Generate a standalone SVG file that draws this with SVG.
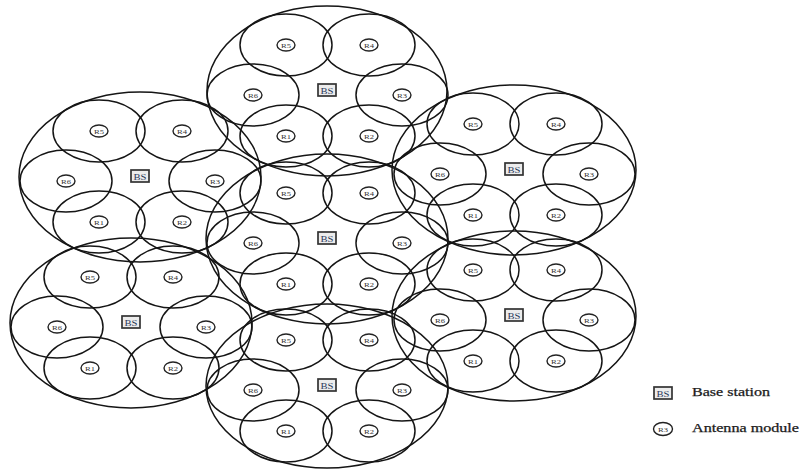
<svg xmlns="http://www.w3.org/2000/svg" width="801" height="470" viewBox="0 0 801 470">
<style>
.big{fill:none;stroke:#151515;stroke-width:1.5}
.cell{fill:none;stroke:#151515;stroke-width:1.5}
.lab{fill:#fff;stroke:#222;stroke-width:1.4}
.lt{font-family:"Liberation Serif",serif;font-size:6.5px;fill:#333;text-anchor:middle}
.bs{fill:#ececec;stroke:#333;stroke-width:1.7}
.bt{font-family:"Liberation Serif",serif;font-size:9px;fill:#2a3a5a;text-anchor:middle}
.leg{font-family:"Liberation Serif",serif;font-size:12px;fill:#1a1a1a;stroke:#1a1a1a;stroke-width:0.25}
</style>
<rect width="801" height="470" fill="#fff"/>
<g id="connectors"/>
<g id="cluster-top" transform="translate(327,91)">
<ellipse class="big" cx="0" cy="0" rx="120" ry="85"/>
<ellipse class="cell" cx="-41" cy="-46" rx="46" ry="31"/>
<ellipse class="cell" cx="42" cy="-46" rx="46" ry="31"/>
<ellipse class="cell" cx="-74" cy="4" rx="46" ry="31"/>
<ellipse class="cell" cx="75" cy="4" rx="46" ry="31"/>
<ellipse class="cell" cx="-41" cy="45" rx="46" ry="31"/>
<ellipse class="cell" cx="42" cy="45" rx="46" ry="31"/>
<rect class="bs" x="-9" y="-7" width="18" height="12"/><text class="bt" x="0" y="2.5" textLength="13" lengthAdjust="spacingAndGlyphs">BS</text>
<ellipse class="lab" cx="-41" cy="-46" rx="9" ry="6"/><text class="lt" x="-41" y="-43.5" textLength="10" lengthAdjust="spacingAndGlyphs">R5</text>
<ellipse class="lab" cx="42" cy="-46" rx="9" ry="6"/><text class="lt" x="42" y="-43.5" textLength="10" lengthAdjust="spacingAndGlyphs">R4</text>
<ellipse class="lab" cx="-74" cy="4" rx="9" ry="6"/><text class="lt" x="-74" y="6.5" textLength="10" lengthAdjust="spacingAndGlyphs">R6</text>
<ellipse class="lab" cx="75" cy="4" rx="9" ry="6"/><text class="lt" x="75" y="6.5" textLength="10" lengthAdjust="spacingAndGlyphs">R3</text>
<ellipse class="lab" cx="-41" cy="45" rx="9" ry="6"/><text class="lt" x="-41" y="47.5" textLength="10" lengthAdjust="spacingAndGlyphs">R1</text>
<ellipse class="lab" cx="42" cy="45" rx="9" ry="6"/><text class="lt" x="42" y="47.5" textLength="10" lengthAdjust="spacingAndGlyphs">R2</text>
</g>
<g id="cluster-left-upper" transform="translate(140,177)">
<ellipse class="big" cx="0" cy="0" rx="121" ry="85"/>
<ellipse class="cell" cx="-41" cy="-46" rx="46" ry="31"/>
<ellipse class="cell" cx="42" cy="-46" rx="46" ry="31"/>
<ellipse class="cell" cx="-74" cy="4" rx="46" ry="31"/>
<ellipse class="cell" cx="75" cy="4" rx="46" ry="31"/>
<ellipse class="cell" cx="-41" cy="45" rx="46" ry="31"/>
<ellipse class="cell" cx="42" cy="45" rx="46" ry="31"/>
<rect class="bs" x="-9" y="-7" width="18" height="12"/><text class="bt" x="0" y="2.5" textLength="13" lengthAdjust="spacingAndGlyphs">BS</text>
<ellipse class="lab" cx="-41" cy="-46" rx="9" ry="6"/><text class="lt" x="-41" y="-43.5" textLength="10" lengthAdjust="spacingAndGlyphs">R5</text>
<ellipse class="lab" cx="42" cy="-46" rx="9" ry="6"/><text class="lt" x="42" y="-43.5" textLength="10" lengthAdjust="spacingAndGlyphs">R4</text>
<ellipse class="lab" cx="-74" cy="4" rx="9" ry="6"/><text class="lt" x="-74" y="6.5" textLength="10" lengthAdjust="spacingAndGlyphs">R6</text>
<ellipse class="lab" cx="75" cy="4" rx="9" ry="6"/><text class="lt" x="75" y="6.5" textLength="10" lengthAdjust="spacingAndGlyphs">R3</text>
<ellipse class="lab" cx="-41" cy="45" rx="9" ry="6"/><text class="lt" x="-41" y="47.5" textLength="10" lengthAdjust="spacingAndGlyphs">R1</text>
<ellipse class="lab" cx="42" cy="45" rx="9" ry="6"/><text class="lt" x="42" y="47.5" textLength="10" lengthAdjust="spacingAndGlyphs">R2</text>
</g>
<g id="cluster-right-upper" transform="translate(514,170)">
<ellipse class="big" cx="0" cy="0" rx="122" ry="85"/>
<ellipse class="cell" cx="-41" cy="-46" rx="46" ry="31"/>
<ellipse class="cell" cx="42" cy="-46" rx="46" ry="31"/>
<ellipse class="cell" cx="-74" cy="4" rx="46" ry="31"/>
<ellipse class="cell" cx="75" cy="4" rx="46" ry="31"/>
<ellipse class="cell" cx="-41" cy="45" rx="46" ry="31"/>
<ellipse class="cell" cx="42" cy="45" rx="46" ry="31"/>
<rect class="bs" x="-9" y="-7" width="18" height="12"/><text class="bt" x="0" y="2.5" textLength="13" lengthAdjust="spacingAndGlyphs">BS</text>
<ellipse class="lab" cx="-41" cy="-46" rx="9" ry="6"/><text class="lt" x="-41" y="-43.5" textLength="10" lengthAdjust="spacingAndGlyphs">R5</text>
<ellipse class="lab" cx="42" cy="-46" rx="9" ry="6"/><text class="lt" x="42" y="-43.5" textLength="10" lengthAdjust="spacingAndGlyphs">R4</text>
<ellipse class="lab" cx="-74" cy="4" rx="9" ry="6"/><text class="lt" x="-74" y="6.5" textLength="10" lengthAdjust="spacingAndGlyphs">R6</text>
<ellipse class="lab" cx="75" cy="4" rx="9" ry="6"/><text class="lt" x="75" y="6.5" textLength="10" lengthAdjust="spacingAndGlyphs">R3</text>
<ellipse class="lab" cx="-41" cy="45" rx="9" ry="6"/><text class="lt" x="-41" y="47.5" textLength="10" lengthAdjust="spacingAndGlyphs">R1</text>
<ellipse class="lab" cx="42" cy="45" rx="9" ry="6"/><text class="lt" x="42" y="47.5" textLength="10" lengthAdjust="spacingAndGlyphs">R2</text>
</g>
<g id="cluster-center" transform="translate(327,239)">
<ellipse class="big" cx="0" cy="0" rx="121" ry="85"/>
<ellipse class="cell" cx="-41" cy="-46" rx="46" ry="31"/>
<ellipse class="cell" cx="42" cy="-46" rx="46" ry="31"/>
<ellipse class="cell" cx="-74" cy="4" rx="46" ry="31"/>
<ellipse class="cell" cx="75" cy="4" rx="46" ry="31"/>
<ellipse class="cell" cx="-41" cy="45" rx="46" ry="31"/>
<ellipse class="cell" cx="42" cy="45" rx="46" ry="31"/>
<rect class="bs" x="-9" y="-7" width="18" height="12"/><text class="bt" x="0" y="2.5" textLength="13" lengthAdjust="spacingAndGlyphs">BS</text>
<ellipse class="lab" cx="-41" cy="-46" rx="9" ry="6"/><text class="lt" x="-41" y="-43.5" textLength="10" lengthAdjust="spacingAndGlyphs">R5</text>
<ellipse class="lab" cx="42" cy="-46" rx="9" ry="6"/><text class="lt" x="42" y="-43.5" textLength="10" lengthAdjust="spacingAndGlyphs">R4</text>
<ellipse class="lab" cx="-74" cy="4" rx="9" ry="6"/><text class="lt" x="-74" y="6.5" textLength="10" lengthAdjust="spacingAndGlyphs">R6</text>
<ellipse class="lab" cx="75" cy="4" rx="9" ry="6"/><text class="lt" x="75" y="6.5" textLength="10" lengthAdjust="spacingAndGlyphs">R3</text>
<ellipse class="lab" cx="-41" cy="45" rx="9" ry="6"/><text class="lt" x="-41" y="47.5" textLength="10" lengthAdjust="spacingAndGlyphs">R1</text>
<ellipse class="lab" cx="42" cy="45" rx="9" ry="6"/><text class="lt" x="42" y="47.5" textLength="10" lengthAdjust="spacingAndGlyphs">R2</text>
</g>
<g id="cluster-left-lower" transform="translate(131,323)">
<ellipse class="big" cx="0" cy="0" rx="121" ry="85"/>
<ellipse class="cell" cx="-41" cy="-46" rx="46" ry="31"/>
<ellipse class="cell" cx="42" cy="-46" rx="46" ry="31"/>
<ellipse class="cell" cx="-74" cy="4" rx="46" ry="31"/>
<ellipse class="cell" cx="75" cy="4" rx="46" ry="31"/>
<ellipse class="cell" cx="-41" cy="45" rx="46" ry="31"/>
<ellipse class="cell" cx="42" cy="45" rx="46" ry="31"/>
<rect class="bs" x="-9" y="-7" width="18" height="12"/><text class="bt" x="0" y="2.5" textLength="13" lengthAdjust="spacingAndGlyphs">BS</text>
<ellipse class="lab" cx="-41" cy="-46" rx="9" ry="6"/><text class="lt" x="-41" y="-43.5" textLength="10" lengthAdjust="spacingAndGlyphs">R5</text>
<ellipse class="lab" cx="42" cy="-46" rx="9" ry="6"/><text class="lt" x="42" y="-43.5" textLength="10" lengthAdjust="spacingAndGlyphs">R4</text>
<ellipse class="lab" cx="-74" cy="4" rx="9" ry="6"/><text class="lt" x="-74" y="6.5" textLength="10" lengthAdjust="spacingAndGlyphs">R6</text>
<ellipse class="lab" cx="75" cy="4" rx="9" ry="6"/><text class="lt" x="75" y="6.5" textLength="10" lengthAdjust="spacingAndGlyphs">R3</text>
<ellipse class="lab" cx="-41" cy="45" rx="9" ry="6"/><text class="lt" x="-41" y="47.5" textLength="10" lengthAdjust="spacingAndGlyphs">R1</text>
<ellipse class="lab" cx="42" cy="45" rx="9" ry="6"/><text class="lt" x="42" y="47.5" textLength="10" lengthAdjust="spacingAndGlyphs">R2</text>
</g>
<g id="cluster-right-lower" transform="translate(514,316)">
<ellipse class="big" cx="0" cy="0" rx="122" ry="85"/>
<ellipse class="cell" cx="-41" cy="-46" rx="46" ry="31"/>
<ellipse class="cell" cx="42" cy="-46" rx="46" ry="31"/>
<ellipse class="cell" cx="-74" cy="4" rx="46" ry="31"/>
<ellipse class="cell" cx="75" cy="4" rx="46" ry="31"/>
<ellipse class="cell" cx="-41" cy="45" rx="46" ry="31"/>
<ellipse class="cell" cx="42" cy="45" rx="46" ry="31"/>
<rect class="bs" x="-9" y="-7" width="18" height="12"/><text class="bt" x="0" y="2.5" textLength="13" lengthAdjust="spacingAndGlyphs">BS</text>
<ellipse class="lab" cx="-41" cy="-46" rx="9" ry="6"/><text class="lt" x="-41" y="-43.5" textLength="10" lengthAdjust="spacingAndGlyphs">R5</text>
<ellipse class="lab" cx="42" cy="-46" rx="9" ry="6"/><text class="lt" x="42" y="-43.5" textLength="10" lengthAdjust="spacingAndGlyphs">R4</text>
<ellipse class="lab" cx="-74" cy="4" rx="9" ry="6"/><text class="lt" x="-74" y="6.5" textLength="10" lengthAdjust="spacingAndGlyphs">R6</text>
<ellipse class="lab" cx="75" cy="4" rx="9" ry="6"/><text class="lt" x="75" y="6.5" textLength="10" lengthAdjust="spacingAndGlyphs">R3</text>
<ellipse class="lab" cx="-41" cy="45" rx="9" ry="6"/><text class="lt" x="-41" y="47.5" textLength="10" lengthAdjust="spacingAndGlyphs">R1</text>
<ellipse class="lab" cx="42" cy="45" rx="9" ry="6"/><text class="lt" x="42" y="47.5" textLength="10" lengthAdjust="spacingAndGlyphs">R2</text>
</g>
<g id="cluster-bottom" transform="translate(327,386)">
<ellipse class="big" cx="0" cy="0" rx="121" ry="82"/>
<ellipse class="cell" cx="-41" cy="-46" rx="46" ry="31"/>
<ellipse class="cell" cx="42" cy="-46" rx="46" ry="31"/>
<ellipse class="cell" cx="-74" cy="4" rx="46" ry="31"/>
<ellipse class="cell" cx="75" cy="4" rx="46" ry="31"/>
<ellipse class="cell" cx="-41" cy="45" rx="46" ry="31"/>
<ellipse class="cell" cx="42" cy="45" rx="46" ry="31"/>
<rect class="bs" x="-9" y="-7" width="18" height="12"/><text class="bt" x="0" y="2.5" textLength="13" lengthAdjust="spacingAndGlyphs">BS</text>
<ellipse class="lab" cx="-41" cy="-46" rx="9" ry="6"/><text class="lt" x="-41" y="-43.5" textLength="10" lengthAdjust="spacingAndGlyphs">R5</text>
<ellipse class="lab" cx="42" cy="-46" rx="9" ry="6"/><text class="lt" x="42" y="-43.5" textLength="10" lengthAdjust="spacingAndGlyphs">R4</text>
<ellipse class="lab" cx="-74" cy="4" rx="9" ry="6"/><text class="lt" x="-74" y="6.5" textLength="10" lengthAdjust="spacingAndGlyphs">R6</text>
<ellipse class="lab" cx="75" cy="4" rx="9" ry="6"/><text class="lt" x="75" y="6.5" textLength="10" lengthAdjust="spacingAndGlyphs">R3</text>
<ellipse class="lab" cx="-41" cy="45" rx="9" ry="6"/><text class="lt" x="-41" y="47.5" textLength="10" lengthAdjust="spacingAndGlyphs">R1</text>
<ellipse class="lab" cx="42" cy="45" rx="9" ry="6"/><text class="lt" x="42" y="47.5" textLength="10" lengthAdjust="spacingAndGlyphs">R2</text>
</g>
<g id="legend-bs">
<rect class="bs" x="654" y="387" width="18" height="12"/><text class="bt" x="663" y="396.5" textLength="13" lengthAdjust="spacingAndGlyphs">BS</text>
<text class="leg" x="692" y="396" textLength="78" lengthAdjust="spacingAndGlyphs">Base station</text>
</g>
<g id="legend-antenna">
<ellipse class="lab" cx="663" cy="429" rx="9.5" ry="6.5"/><text class="lt" x="663" y="431.5" textLength="10" lengthAdjust="spacingAndGlyphs">R3</text>
<text class="leg" x="692" y="432" textLength="107" lengthAdjust="spacingAndGlyphs">Antenna module</text>
</g>
</svg>
